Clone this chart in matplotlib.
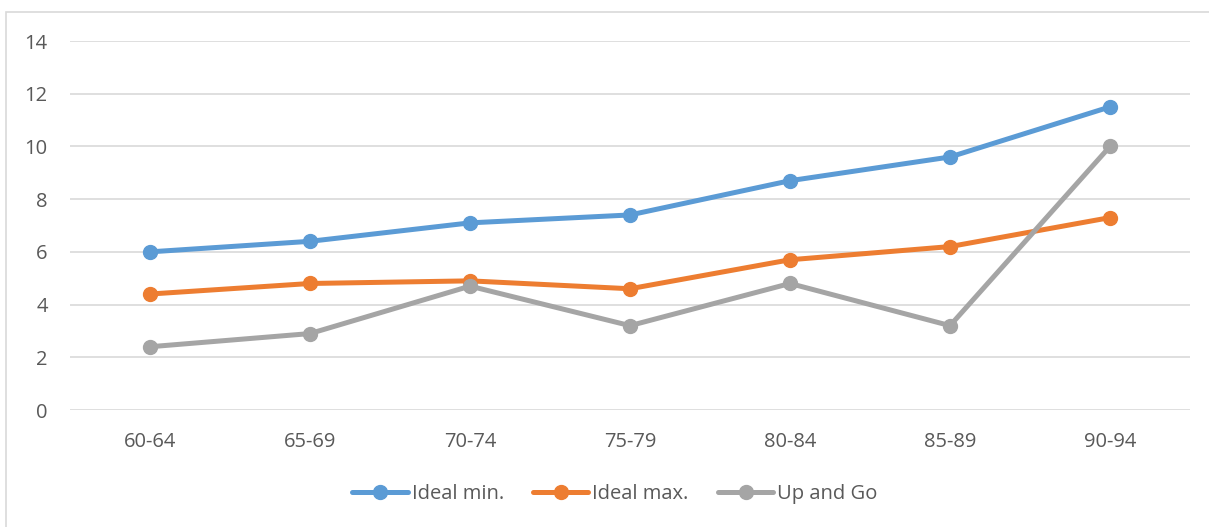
import matplotlib
matplotlib.use("Agg")
import matplotlib.pyplot as plt
from matplotlib.patches import Rectangle

age_groups = ["60-64", "65-69", "70-74", "75-79", "80-84", "85-89", "90-94"]
ideal_min = [6.0, 6.4, 7.1, 7.4, 8.7, 9.6, 11.5]
ideal_max = [4.4, 4.8, 4.9, 4.6, 5.7, 6.2, 7.3]
up_and_go = [2.4, 2.9, 4.7, 3.2, 4.8, 3.2, 10.0]
y_ticks = [0, 2, 4, 6, 8, 10, 12, 14]

series = [
    ("Ideal min.", ideal_min, "#5B9BD5"),
    ("Ideal max.", ideal_max, "#ED7D31"),
    ("Up and Go", up_and_go, "#A5A5A5"),
]

plt.rcParams["font.family"] = ["Open Sans", "DejaVu Sans"]
text_color = "#595959"

W, H = 1209, 527
fig = plt.figure(figsize=(W / 100, H / 100), dpi=100)
fig.patch.set_facecolor("white")

# chart border
fig.add_artist(Rectangle((6 / W, -0.01), 1.02, (H - 12) / H + 0.01,
                         transform=fig.transFigure, fill=False,
                         edgecolor="#D9D9D9", linewidth=1.2))

ax = fig.add_axes([70 / W, (H - 410) / H, (1190 - 70) / W, (410 - 41) / H])
x = list(range(len(age_groups)))
for name, vals, color in series:
    ax.plot(x, vals, color=color, linewidth=3.6, marker="o", markersize=10,
            label=name, solid_capstyle="round", zorder=3)

ax.set_xlim(-0.5, len(age_groups) - 0.5)
ax.set_ylim(0, 14)
ax.set_yticks(y_ticks)
ax.set_xticks(x)
ax.set_xticklabels(age_groups)
ax.grid(axis="y", color="#D9D9D9", linewidth=1.2)
ax.set_axisbelow(True)
for s in ax.spines.values():
    s.set_visible(False)
ax.tick_params(axis="both", length=0, labelsize=14.5, labelcolor=text_color)
ax.tick_params(axis="y", pad=16)
ax.tick_params(axis="x", pad=16)

leg = fig.legend(loc="center", bbox_to_anchor=(615 / W, (H - 494) / H), ncol=3,
                 frameon=False, fontsize=14.5, handlelength=2.75, handletextpad=0.2,
                 columnspacing=1.45, borderpad=0, borderaxespad=0)
for t in leg.get_texts():
    t.set_color(text_color)

fig.savefig("out.png", dpi=100, facecolor="white")
